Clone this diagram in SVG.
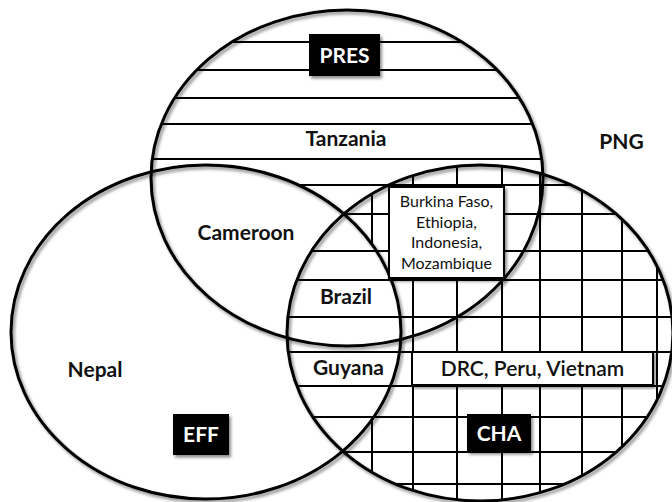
<svg xmlns="http://www.w3.org/2000/svg" width="672" height="502" viewBox="0 0 672 502">
<defs>
<style>
.ring{fill:none;stroke:#000;stroke-width:3}
.grid line{stroke:#000;stroke-width:2}
.lbl{font-family:Lato,"Liberation Sans",sans-serif;font-weight:bold;font-size:21px;fill:#111;text-anchor:middle}
.reg{font-weight:normal;font-size:16px}
.box{fill:#fff;stroke:#000;stroke-width:2}
.tag{fill:#000}
.tagtxt{fill:#fff}
</style>
<filter id="sh" x="-10%" y="-10%" width="125%" height="125%">
<feDropShadow dx="2" dy="2.5" stdDeviation="1.5" flood-color="#000" flood-opacity="0.45"/>
</filter>
<mask id="hm" maskUnits="userSpaceOnUse" x="0" y="0" width="672" height="502">
<rect width="672" height="502" fill="#000"/>
<ellipse cx="347" cy="178" rx="196" ry="168" fill="#fff"/>
<ellipse cx="206" cy="332" rx="195" ry="167" fill="#000"/>
<ellipse cx="480" cy="333" rx="193" ry="168" fill="#fff"/>
</mask>
<mask id="vm" maskUnits="userSpaceOnUse" x="0" y="0" width="672" height="502">
<rect width="672" height="502" fill="#000"/>
<ellipse cx="480" cy="333" rx="193" ry="168" fill="#fff"/>
<ellipse cx="206" cy="332" rx="195" ry="167" fill="#000"/>
</mask>
</defs>
<rect width="672" height="502" fill="#fff"/>

<g id="hatching" class="grid">
<g mask="url(#hm)">
<line x1="0" y1="42" x2="672" y2="42"/>
<line x1="0" y1="70" x2="672" y2="70"/>
<line x1="0" y1="98" x2="672" y2="98"/>
<line x1="0" y1="124" x2="672" y2="124"/>
<line x1="0" y1="159" x2="672" y2="159"/>
<line x1="0" y1="185" x2="672" y2="185"/>
<line x1="0" y1="214" x2="672" y2="214"/>
<line x1="0" y1="251" x2="672" y2="251"/>
<line x1="0" y1="280" x2="672" y2="280"/>
<line x1="0" y1="317" x2="672" y2="317"/>
<line x1="0" y1="352" x2="672" y2="352"/>
<line x1="0" y1="386" x2="672" y2="386"/>
<line x1="0" y1="417" x2="672" y2="417"/>
<line x1="0" y1="452" x2="672" y2="452"/>
<line x1="0" y1="484" x2="672" y2="484"/>
</g>
<g mask="url(#vm)">
<line x1="372" y1="0" x2="372" y2="502"/>
<line x1="413" y1="0" x2="413" y2="502"/>
<line x1="457" y1="0" x2="457" y2="502"/>
<line x1="502" y1="0" x2="502" y2="502"/>
<line x1="540" y1="0" x2="540" y2="502"/>
<line x1="582" y1="0" x2="582" y2="502"/>
<line x1="622" y1="0" x2="622" y2="502"/>
<line x1="657" y1="0" x2="657" y2="502"/>
</g>
</g>

<g id="set-PRES">
<ellipse class="ring" cx="347" cy="178" rx="196" ry="168" filter="url(#sh)"/>
<rect class="tag" x="309" y="34" width="71" height="42" filter="url(#sh)"/>
<text class="lbl tagtxt" x="344.5" y="63">PRES</text>
</g>
<g id="set-EFF">
<ellipse class="ring" cx="206" cy="332" rx="195" ry="167" filter="url(#sh)"/>
<rect class="tag" x="173" y="414" width="56" height="41" filter="url(#sh)"/>
<text class="lbl tagtxt" x="201" y="442">EFF</text>
</g>
<g id="set-CHA">
<ellipse class="ring" cx="480" cy="333" rx="193" ry="168" filter="url(#sh)"/>
<rect class="tag" x="467" y="414" width="64" height="38" filter="url(#sh)"/>
<text class="lbl tagtxt" x="499" y="441">CHA</text>
</g>

<g id="tanzania"><text class="lbl" x="346" y="146">Tanzania</text></g>
<g id="png"><text class="lbl" x="621.5" y="149">PNG</text></g>
<g id="cameroon"><text class="lbl" x="246" y="240">Cameroon</text></g>
<g id="nepal"><text class="lbl" x="95" y="377">Nepal</text></g>
<g id="brazil"><text class="lbl" x="346" y="304">Brazil</text></g>
<g id="guyana"><text class="lbl" x="348.5" y="375">Guyana</text></g>
<g id="burkina">
<rect class="box" x="389" y="187" width="115" height="91" filter="url(#sh)"/>
<text class="lbl reg" x="446.5" y="207">Burkina Faso,</text>
<text class="lbl reg" x="446.5" y="227.5">Ethiopia,</text>
<text class="lbl reg" x="446.5" y="248">Indonesia,</text>
<text class="lbl reg" x="446.5" y="268.5">Mozambique</text>
</g>
<g id="drc">
<rect class="box" x="412" y="352" width="241" height="33" filter="url(#sh)"/>
<text class="lbl" x="532.5" y="376" style="font-weight:600">DRC, Peru, Vietnam</text>
</g>
<g id="connectors"/>
</svg>
